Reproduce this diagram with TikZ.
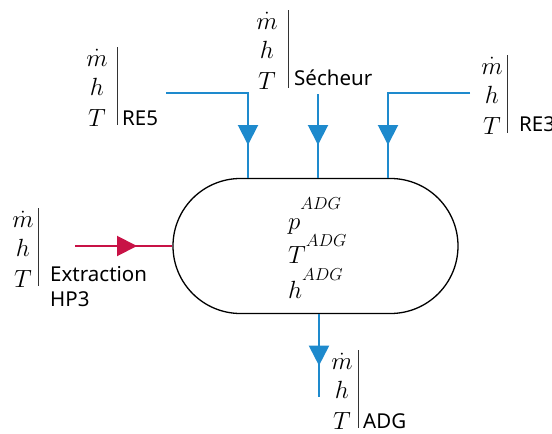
\documentclass[tikz,border=0pt]{standalone}
\usepackage{fontspec}
\newfontfamily\lblfont{Noto Sans}
\usetikzlibrary{shapes.misc,decorations.markings,arrows.meta}
\definecolor{flowblue}{RGB}{30,138,205}
\definecolor{flowred}{RGB}{200,18,70}
% #1 name prefix, #2 x of letters, #3 x of bar, #4 y of bar bottom
\newcommand{\flowstack}[4]{%
  \node[mathlbl] (#1m) at (#2,{#4-59}) {$\dot{m}$};
  \node[mathlbl] (#1h) at (#2,{#4-29.5}) {$h$};
  \node[mathlbl] (#1T) at (#2,{#4+1}) {$T$};
  \draw[barline] (#3,{#4-78}) -- (#3,#4);
}
\begin{document}
\begin{tikzpicture}[x=1pt,y=-1pt,
  mathlbl/.style={anchor=base,inner sep=0pt,font=\fontsize{24}{29}\selectfont},
  sublbl/.style={anchor=base west,inner sep=0pt,font=\lblfont\fontsize{20.5}{25}\selectfont},
  barline/.style={line width=0.9pt,draw=black!80},
  vessel/.style={rounded rectangle,draw=black,line width=1.3pt,minimum width=285pt,minimum height=135pt,inner sep=0pt},
  bluepipe/.style={color=flowblue,line width=2pt},
  redpipe/.style={color=flowred,line width=2pt},
  midtip/.style={postaction={decorate},decoration={markings,mark=at position #1 with {\arrow{Triangle[length=20pt,width=20pt]}}}}
]
\useasboundingbox (0,0) rectangle (552,434);

% vessel
\node[vessel] (tank) at (315.5,246) {};
\node[mathlbl,anchor=base west] (pADG) at (288,229) {$p^{\raisebox{10pt}{$\scriptstyle ADG$}}$};
\node[mathlbl,anchor=base west] (TADG) at (288,263) {$T^{\raisebox{7pt}{$\scriptstyle ADG$}}$};
\node[mathlbl,anchor=base west] (hADG) at (288,298) {$h^{\raisebox{8pt}{$\scriptstyle ADG$}}$};

% flow start/end points
\coordinate (re5s) at (166,93);
\coordinate (re5c) at (248,93);
\coordinate (secs) at (318,94);
\coordinate (re3s) at (470,93);
\coordinate (re3c) at (388,93);
\coordinate (hp3s) at (75,246);
\coordinate (adge) at (319,397);

% connectors
\draw[bluepipe,midtip=134pt] (re5s) -- (re5c) -- (re5c |- tank.north);
\draw[bluepipe,midtip=51pt] (secs) -- (secs |- tank.north);
\draw[bluepipe,midtip=134pt] (re3s) -- (re3c) -- (re3c |- tank.north);
\draw[redpipe,midtip=62pt] (hp3s) -- (tank.west);
\draw[bluepipe,midtip=51.5pt] (adge |- tank.south) -- (adge);

% labels
\flowstack{re5}{97}{117}{125}
\node[sublbl] (re5txt) at (122,125) {RE5};
\flowstack{sec}{267}{288}{88}
\node[sublbl] (sectxt) at (294,85) {Sécheur};
\flowstack{re3}{492}{507}{133}
\node[sublbl] (re3txt) at (519,131) {RE3};
\flowstack{hp3}{23}{38}{286}
\node[sublbl] (exttxt) at (50,281) {Extraction};
\node[sublbl] (hp3txt) at (50,306) {HP3};
\flowstack{adg}{342}{358}{428}
\node[sublbl] (adgtxt) at (363,428) {ADG};
\end{tikzpicture}
\end{document}
